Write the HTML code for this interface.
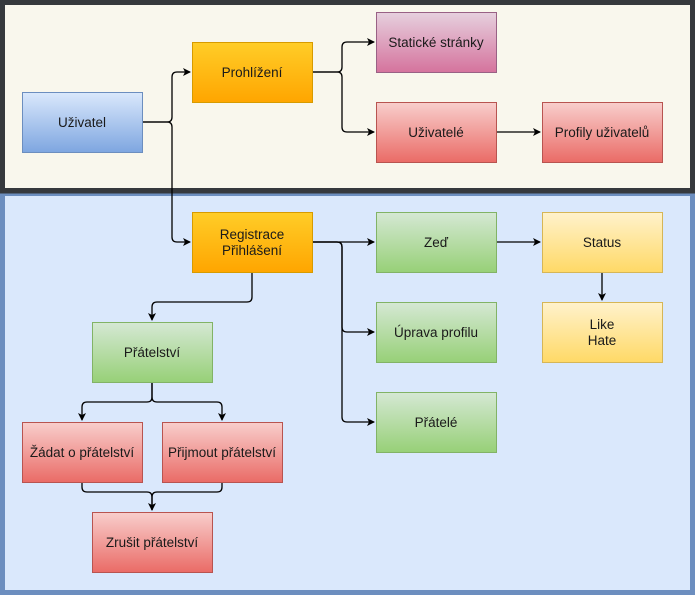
<!DOCTYPE html>
<html><head><meta charset="utf-8"><style>body{margin:0}svg{display:block}text{font-family:"Liberation Sans",sans-serif;font-size:13.5px;fill:#1a1a1a;text-anchor:middle}</style></head><body>
<svg width="695" height="595" viewBox="0 0 695 595" xmlns="http://www.w3.org/2000/svg">
<defs>
<linearGradient id="b" x1="0" y1="0" x2="0" y2="1"><stop offset="0" stop-color="#dae8fc"/><stop offset="1" stop-color="#7ea6e0"/></linearGradient>
<linearGradient id="o" x1="0" y1="0" x2="0" y2="1"><stop offset="0" stop-color="#ffcd28"/><stop offset="1" stop-color="#ffa500"/></linearGradient>
<linearGradient id="p" x1="0" y1="0" x2="0" y2="1"><stop offset="0" stop-color="#e6d0de"/><stop offset="1" stop-color="#d5739d"/></linearGradient>
<linearGradient id="r" x1="0" y1="0" x2="0" y2="1"><stop offset="0" stop-color="#f8cecc"/><stop offset="1" stop-color="#ea6b66"/></linearGradient>
<linearGradient id="g" x1="0" y1="0" x2="0" y2="1"><stop offset="0" stop-color="#d5e8d4"/><stop offset="1" stop-color="#97d077"/></linearGradient>
<linearGradient id="y" x1="0" y1="0" x2="0" y2="1"><stop offset="0" stop-color="#fff2cc"/><stop offset="1" stop-color="#ffd966"/></linearGradient>
<marker id="a" markerWidth="8" markerHeight="8" refX="7" refY="4" orient="auto" markerUnits="userSpaceOnUse"><path d="M0,0 L8,4 L0,8 L2,4z" fill="#000"/></marker>
</defs>
<rect x="2.5" y="2.5" width="690" height="188" fill="#f9f7ed" stroke="#36393d" stroke-width="5"/>
<rect x="2.5" y="193.5" width="690" height="399" fill="#dae8fc" stroke="#6c8ebf" stroke-width="5"/>
<line x1="0" y1="191" x2="695" y2="191" stroke="#36393d" stroke-width="5"/>
<g fill="none" stroke="#000" stroke-width="1.3">
<path d="M142,122 H167 Q172,122 172,117 V77 Q172,72 177,72 H190" marker-end="url(#a)"/>
<path d="M142,122 H167 Q172,122 172,127 V237 Q172,242 177,242 H190" marker-end="url(#a)"/>
<path d="M312,72 H337 Q342,72 342,67 V47 Q342,42 347,42 H374" marker-end="url(#a)"/>
<path d="M312,72 H337 Q342,72 342,77 V127 Q342,132 347,132 H374" marker-end="url(#a)"/>
<path d="M496,132 H540" marker-end="url(#a)"/>
<path d="M312,242 H374" marker-end="url(#a)"/>
<path d="M312,242 H337 Q342,242 342,247 V327 Q342,332 347,332 H374" marker-end="url(#a)"/>
<path d="M312,242 H337 Q342,242 342,247 V417 Q342,422 347,422 H374" marker-end="url(#a)"/>
<path d="M496,242 H540" marker-end="url(#a)"/>
<path d="M602,272 V300" marker-end="url(#a)"/>
<path d="M252,272 V297 Q252,302 247,302 H157 Q152,302 152,307 V320" marker-end="url(#a)"/>
<path d="M152,382 V397 Q152,402 147,402 H87 Q82,402 82,407 V420" marker-end="url(#a)"/>
<path d="M152,382 V397 Q152,402 157,402 H217 Q222,402 222,407 V420" marker-end="url(#a)"/>
<path d="M82,482 V487 Q82,492 87,492 H147 Q152,492 152,497 V510" marker-end="url(#a)"/>
<path d="M222,482 V487 Q222,492 217,492 H157 Q152,492 152,497 V510"/>
</g>
<rect x="22.5" y="92.5" width="120" height="60" fill="url(#b)" stroke="#6c8ebf"/><text x="82" y="127">Uživatel</text>
<rect x="192.5" y="42.5" width="120" height="60" fill="url(#o)" stroke="#d79b00"/><text x="252" y="77">Prohlížení</text>
<rect x="376.5" y="12.5" width="120" height="60" fill="url(#p)" stroke="#996185"/><text x="436" y="47">Statické stránky</text>
<rect x="376.5" y="102.5" width="120" height="60" fill="url(#r)" stroke="#b85450"/><text x="436" y="137">Uživatelé</text>
<rect x="542.5" y="102.5" width="120" height="60" fill="url(#r)" stroke="#b85450"/><text x="602" y="137">Profily uživatelů</text>
<rect x="192.5" y="212.5" width="120" height="60" fill="url(#o)" stroke="#d79b00"/><text x="252" y="239">Registrace</text><text x="252" y="255">Přihlášení</text>
<rect x="376.5" y="212.5" width="120" height="60" fill="url(#g)" stroke="#82b366"/><text x="436" y="247">Zeď</text>
<rect x="542.5" y="212.5" width="120" height="60" fill="url(#y)" stroke="#d6b656"/><text x="602" y="247">Status</text>
<rect x="542.5" y="302.5" width="120" height="60" fill="url(#y)" stroke="#d6b656"/><text x="602" y="329">Like</text><text x="602" y="345">Hate</text>
<rect x="376.5" y="302.5" width="120" height="60" fill="url(#g)" stroke="#82b366"/><text x="436" y="337">Úprava profilu</text>
<rect x="376.5" y="392.5" width="120" height="60" fill="url(#g)" stroke="#82b366"/><text x="436" y="427">Přátelé</text>
<rect x="92.5" y="322.5" width="120" height="60" fill="url(#g)" stroke="#82b366"/><text x="152" y="357">Přátelství</text>
<rect x="22.5" y="422.5" width="120" height="60" fill="url(#r)" stroke="#b85450"/><text x="82" y="457">Žádat o přátelství</text>
<rect x="162.5" y="422.5" width="120" height="60" fill="url(#r)" stroke="#b85450"/><text x="222" y="457">Přijmout přátelství</text>
<rect x="92.5" y="512.5" width="120" height="60" fill="url(#r)" stroke="#b85450"/><text x="152" y="547">Zrušit přátelství</text>
</svg>
</body></html>
